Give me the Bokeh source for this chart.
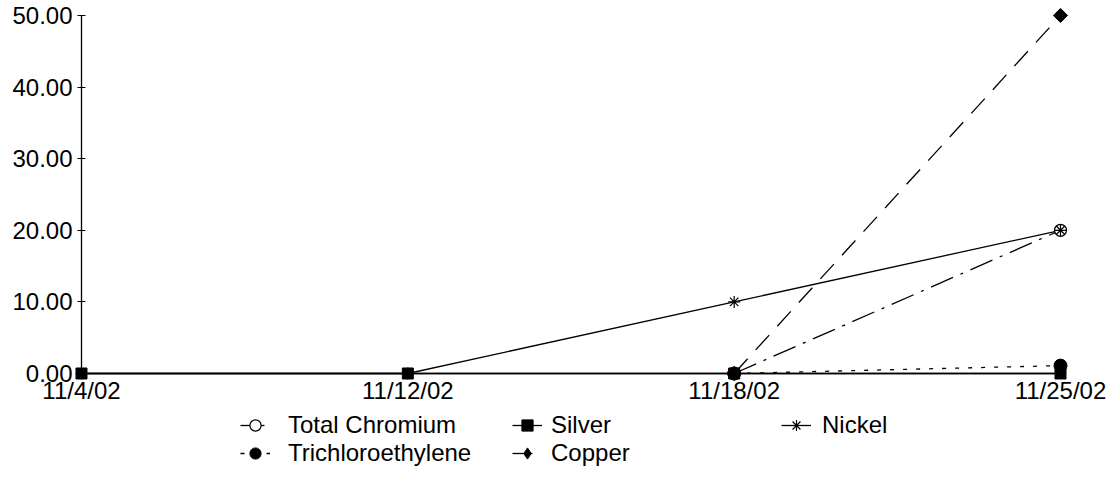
import math
from bokeh.plotting import figure
from bokeh.models import Range1d, FixedTicker, NumeralTickFormatter, Legend, LegendItem, ColumnDataSource
from bokeh.embed import file_html
from bokeh.resources import INLINE

nan = float("nan")

dates = ["11/4/02", "11/12/02", "11/18/02", "11/25/02"]
total_chromium = [nan, nan, 0.0, 20.0]
trichloroethylene = [nan, nan, 0.0, 1.1]
silver = [0.0, 0.0, 0.0, 0.0]
copper = [nan, nan, 0.0, 50.0]
nickel = [0.0, 0.0, 10.0, 20.0]
y_ticks = [0, 10, 20, 30, 40, 50]

xs = list(range(len(dates)))
src = ColumnDataSource(dict(x=xs, chrom=total_chromium, tce=trichloroethylene,
                            ag=silver, cu=copper, ni=nickel))

FONT = "Liberation Sans"
W, H = 1110, 490

p = figure(width=W, height=H, output_backend="svg", toolbar_location=None,
           x_range=Range1d(-0.2482, 3.1532), y_range=Range1d(-16.34, 52.09),
           min_border=0, min_border_left=0, min_border_right=0,
           min_border_top=0, min_border_bottom=0)
p.outline_line_color = None
p.grid.visible = False
p.background_fill_color = "white"
p.border_fill_color = "white"

# axes drawn at the data origin
p.yaxis.fixed_location = 0
p.xaxis.fixed_location = 0
p.yaxis.bounds = (0, 50)
p.xaxis.bounds = (0, len(dates) - 1)
p.yaxis.ticker = FixedTicker(ticks=y_ticks)
p.yaxis.formatter = NumeralTickFormatter(format="0.00")
p.xaxis.ticker = FixedTicker(ticks=xs)
p.xaxis.major_label_overrides = {i: d for i, d in enumerate(dates)}
for ax in (p.xaxis, p.yaxis):
    ax.axis_line_color = "black"
    ax.axis_line_width = 1.3
    ax.major_tick_line_color = "black"
    ax.minor_tick_line_color = None
    ax.major_label_text_font = FONT
    ax.major_label_text_font_size = "24px"
    ax.major_label_text_color = "black"
p.yaxis.major_tick_in = 4
p.yaxis.major_tick_out = 4
p.yaxis.major_label_standoff = 5
p.xaxis.major_tick_in = 0
p.xaxis.major_tick_out = 0
p.xaxis.major_label_standoff = 4

LW = 1.3
l_chrom = p.line("x", "chrom", source=src, line_color="black", line_width=LW, line_dash="24 8 3 8")
l_cu = p.line("x", "cu", source=src, line_color="black", line_width=LW, line_dash="20 12")
l_tce = p.line("x", "tce", source=src, line_color="black", line_width=LW, line_dash="4 9")
l_ni = p.line("x", "ni", source=src, line_color="black", line_width=LW)
l_ag = p.line("x", "ag", source=src, line_color="black", line_width=LW)

m_chrom = p.scatter("x", "chrom", source=src, marker="circle", size=12,
                    line_color="black", fill_color="white", line_width=1.2)
m_cu = p.scatter("x", "cu", source=src, marker="square", angle=math.pi / 4, size=10,
                 line_color="black", fill_color="black")
m_ni = p.scatter("x", "ni", source=src, marker="asterisk", size=12,
                 line_color="black", line_width=1.2)
m_ag = p.scatter("x", "ag", source=src, marker="square", size=11,
                 line_color="black", fill_color="black")
m_tce = p.scatter("x", "tce", source=src, marker="circle", size=13,
                  line_color="black", fill_color="black")
# legend key for copper (upright diamond, as in the original key); draws nothing in the plot
cu_key = p.scatter(x=[nan], y=[nan], marker="diamond", size=14,
                   line_color="black", fill_color="black")


def make_legend(label, renderers, loc, standoff):
    lg = Legend(items=[LegendItem(label=label, renderers=renderers)],
                location=loc, orientation="vertical",
                border_line_color=None, background_fill_alpha=0,
                padding=0, margin=0, spacing=0,
                glyph_width=30, glyph_height=28, label_height=25,
                label_standoff=standoff,
                label_text_font=FONT, label_text_font_size="24px",
                label_text_color="black")
    p.add_layout(lg)
    return lg


ROW1, ROW2 = 51, 23
make_legend("Total Chromium", [l_chrom, m_chrom], (240, ROW1), 18)
make_legend("Trichloroethylene", [l_tce, m_tce], (240, ROW2), 18)
make_legend("Silver", [l_ag, m_ag], (512, ROW1), 9)
make_legend("Copper", [l_cu, cu_key], (512, ROW2), 9)
make_legend("Nickel", [l_ni, m_ni], (781, ROW1), 11)

open("out.html", "w").write(file_html(p, INLINE))
